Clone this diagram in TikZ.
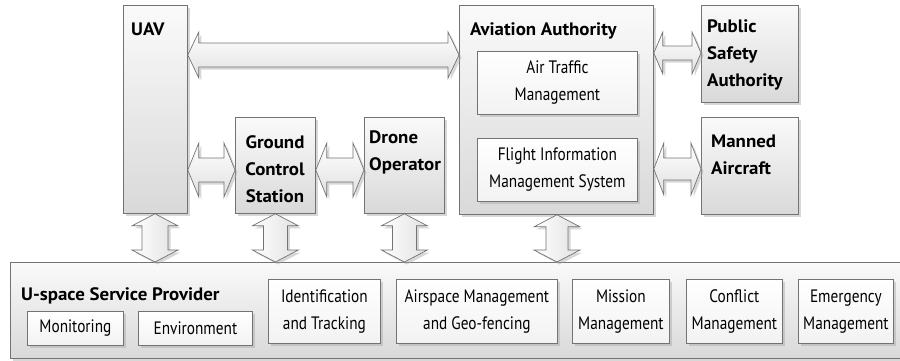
\documentclass[tikz,border=0pt]{standalone}
\usepackage{fontspec}
\setmainfont[FakeStretch=0.85,BoldFeatures={FakeStretch=1.05}]{PT Sans}
\usetikzlibrary{calc,shadows}
\tikzset{
  shd/.style={drop shadow={shadow xshift=2.5pt,shadow yshift=-2.5pt,fill=black!35,opacity=0.45}},
  outerbox/.style={draw=black!55,line width=0.8pt,top color=black!2,bottom color=black!15,shd,anchor=north west,inner sep=0pt},
  innerbox/.style={draw=black!55,line width=0.8pt,top color=white,bottom color=black!5,shd,anchor=north west,inner sep=0pt,align=center,font=\fontsize{18}{27}\selectfont},
  btxt/.style={font=\fontsize{18}{27}\selectfont\bfseries,inner sep=0pt,align=left},
  arrowsty/.style={draw=black!55,line width=0.7pt,top color=white,bottom color=black!12,shd},
  varrowsty/.style={draw=black!55,line width=0.7pt,left color=white,right color=black!12,shd},
}
% horizontal double arrow: #1 left tip, #2 right tip, #3 shaft half, #4 head half, #5 head length
\newcommand\harr[5]{%
  \path[arrowsty] (#1) -- ($(#1)+(#5,-#4)$) -- ($(#1)+(#5,-#3)$) -- ($(#2)+(-#5,-#3)$) -- ($(#2)+(-#5,-#4)$) -- (#2)
    -- ($(#2)+(-#5,#4)$) -- ($(#2)+(-#5,#3)$) -- ($(#1)+(#5,#3)$) -- ($(#1)+(#5,#4)$) -- cycle;}
% vertical double arrow: #1 top tip, #2 bottom tip
\newcommand\varr[5]{%
  \path[varrowsty] (#1) -- ($(#1)+(-#4,#5)$) -- ($(#1)+(-#3,#5)$) -- ($(#2)+(-#3,-#5)$) -- ($(#2)+(-#4,-#5)$) -- (#2)
    -- ($(#2)+(#4,-#5)$) -- ($(#2)+(#3,-#5)$) -- ($(#1)+(#3,#5)$) -- ($(#1)+(#4,#5)$) -- cycle;}
\begin{document}
\begin{tikzpicture}[x=1pt,y=-1pt]
\useasboundingbox (0,0) rectangle (900,360);
% provider
\node[outerbox,minimum width=900pt,minimum height=96pt] (usp) at (10,262) {};
\node[btxt,anchor=base west] (uspt) at (21,300) {U-space Service Provider};
\node[innerbox,minimum width=96pt,minimum height=34pt] (mon) at (27,311) {Monitoring};
\node[innerbox,minimum width=114pt,minimum height=34pt] (env) at (138,311) {Environment};
\node[innerbox,minimum width=112pt,minimum height=64pt] (idt) at (268,279) {Identification\\and Tracking};
\node[innerbox,minimum width=161pt,minimum height=64pt] (asm) at (396,279) {Airspace Management\\and Geo-fencing};
\node[innerbox,minimum width=97pt,minimum height=64pt] (mis) at (572,279) {Mission\\Management};
\node[innerbox,minimum width=96pt,minimum height=64pt] (con) at (686,279) {Conflict\\Management};
\node[innerbox,minimum width=95pt,minimum height=64pt] (eme) at (798,279) {Emergency\\Management};
% top boxes
\node[outerbox,minimum width=64pt,minimum height=208pt] (uav) at (123,5) {};
\node[btxt,anchor=base west] (uavt) at (131,35) {UAV};
\node[outerbox,minimum width=80pt,minimum height=96pt] (gcs) at (235,117) {};
\node[btxt,align=center,anchor=north] (gcst) at (275,135) {Ground\\Control\\Station};
\node[outerbox,minimum width=80pt,minimum height=96pt] (dro) at (364,117) {};
\node[btxt,anchor=north west] (drot) at (369,131) {Drone\\Operator};
\node[outerbox,minimum width=194pt,minimum height=209pt] (aa) at (459,5) {};
\node[btxt,anchor=base west] (aat) at (470,35) {Aviation Authority};
\node[innerbox,minimum width=160pt,minimum height=63pt] (atm) at (477,51) {Air Traffic\\Management};
\node[innerbox,minimum width=160pt,minimum height=63pt] (fims) at (477,138) {Flight Information\\Management System};
\node[outerbox,minimum width=97pt,minimum height=97pt] (psa) at (701,5) {};
\node[btxt,anchor=north west] (psat) at (707,19) {Public\\Safety\\Authority};
\node[outerbox,minimum width=97pt,minimum height=97pt] (ma) at (701,117) {};
\node[btxt,anchor=north west] (mat) at (711,135) {Manned\\Aircraft};
% arrow end points
\coordinate (h1a) at ($(uav.north east)+(0,50)$);
\coordinate (h1b) at ($(aa.north west)+(0,50)$);
\coordinate (h2a) at ($(uav.north east)+(0,165)$);
\coordinate (h2b) at ($(gcs.north west)+(0,53)$);
\coordinate (h3a) at ($(gcs.north east)+(0,53)$);
\coordinate (h3b) at ($(dro.north west)+(0,53)$);
\coordinate (h4a) at ($(aa.north east)+(0,48)$);
\coordinate (h4b) at ($(psa.north west)+(0,48)$);
\coordinate (h5a) at ($(aa.north east)+(0,164)$);
\coordinate (h5b) at ($(ma.north west)+(0,52)$);
\coordinate (v1a) at ($(uav.south west)+(32,0)$);
\coordinate (v1b) at (v1a |- usp.north);
\coordinate (v2a) at (gcs.south);
\coordinate (v2b) at (v2a |- usp.north);
\coordinate (v3a) at (dro.south);
\coordinate (v3b) at (v3a |- usp.north);
\coordinate (v4a) at ($(aa.south west)+(98,0)$);
\coordinate (v4b) at (v4a |- usp.north);
\harr{h1a}{h1b}{12}{23}{11}
\harr{h2a}{h2b}{12}{27}{11}
\harr{h3a}{h3b}{12}{27}{11}
\harr{h4a}{h4b}{7}{21}{9}
\harr{h5a}{h5b}{11}{26}{10}
\varr{v1a}{v1b}{13}{23}{12}
\varr{v2a}{v2b}{12}{23}{12}
\varr{v3a}{v3b}{12}{23}{12}
\varr{v4a}{v4b}{11}{23}{12}
\end{tikzpicture}
\end{document}
